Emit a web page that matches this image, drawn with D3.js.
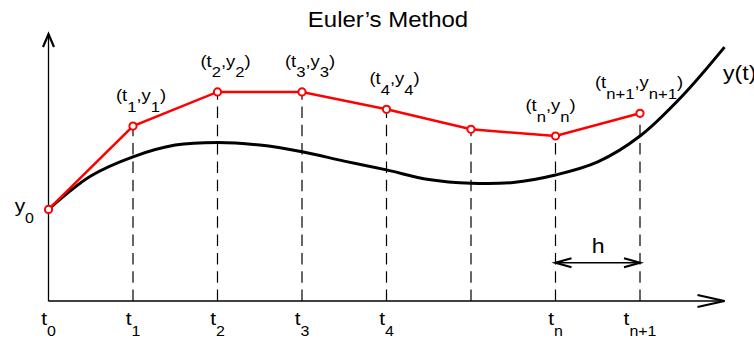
<!DOCTYPE html>
<html>
<head>
<meta charset="utf-8">
<script src="https://cdn.jsdelivr.net/npm/d3@7"></script>
<style>
  body { margin: 0; background: #fff; }
  text { font-family: "Liberation Sans", Arial, sans-serif; fill: #000; }
</style>
</head>
<body>
<svg width="754" height="339"></svg>
<script>
const svg = d3.select('svg');
const width = +svg.attr('width');
const height = +svg.attr('height');

// exact solution y(t)
const exactT = [0, 0.5, 1, 1.5, 2, 2.5, 3, 3.5, 4, 4.5, 5, 5.5, 6, 6.5, 7, 7.5, 8];
const exactY = [3.43, 4.68, 5.40, 5.84, 5.94, 5.84, 5.59, 5.24, 4.91, 4.55, 4.41, 4.44, 4.72, 5.21, 6.18, 7.68, 9.51];

// Euler steps
const stepT = [0, 1, 2, 3, 4, 5, 6, 7];
const stepY = [3.43, 6.55, 7.83, 7.83, 7.18, 6.43, 6.18, 7.03];
const stepSub = ['0', '1', '2', '3', '4', '', 'n', 'n+1'];

const titleText = 'Euler’s Method';
const curveLabel = 'y(t)';
const stepLabel = 'h';

const x = d3.scaleLinear().domain([0, 8]).range([48.5, 724.5]);
const y = d3.scaleLinear().domain([0, 10]).range([301, 34]);

// text is a little wider than tall in the original
const SX = 1.1;
function label(parts, px, py, opts) {
  const g = svg.append('g').attr('transform', `translate(${px},${py}) scale(${opts.sx || SX},1)`);
  const t = g.append('text')
    .attr('text-anchor', opts.anchor || 'middle')
    .attr('font-size', opts.size);
  let down = false;
  parts.forEach(([s, sub]) => {
    const ts = t.append('tspan').text(s);
    if (sub && !down) { ts.attr('dy', opts.shift).attr('font-size', opts.subSize); down = true; }
    else if (sub) { ts.attr('font-size', opts.subSize); }
    else if (down) { ts.attr('dy', -opts.shift); down = false; }
  });
  return t;
}

// dashed guides
svg.append('g').selectAll('line')
  .data(stepT.slice(1))
  .enter().append('line')
  .attr('x1', d => x(d)).attr('x2', d => x(d))
  .attr('y1', y(0)).attr('y2', (d, i) => y(stepY[i + 1]) + 4)
  .attr('stroke', '#000').attr('stroke-width', 1.2)
  .attr('stroke-dasharray', '11.5,6.8');

// axes
svg.append('g').attr('transform', `translate(0,${y(0) - 0.5})`)
  .call(d3.axisBottom(x).tickValues([]).tickSizeOuter(0))
  .select('.domain').attr('stroke-width', 1.3);
svg.append('g').attr('transform', `translate(${x(0) - 0.5},0)`)
  .call(d3.axisLeft(y).tickValues([]).tickSizeOuter(0))
  .select('.domain').attr('stroke-width', 1.3);

const arrows = svg.append('g').attr('fill', 'none').attr('stroke', '#000')
  .attr('stroke-width', 2.2).attr('stroke-linejoin', 'miter');
const xe = x(8), ye = y(10), ya = y(0);
arrows.append('path').attr('d', `M${xe - 27},${ya - 6}L${xe},${ya}L${xe - 27},${ya + 6}`);
arrows.append('path').attr('d', `M${x(0) - 5.5},${ye + 13}L${x(0)},${ye}L${x(0) + 5.5},${ye + 13}`);

// exact solution
svg.append('path')
  .datum(exactT.map((t, i) => [t, exactY[i]]))
  .attr('fill', 'none').attr('stroke', '#000').attr('stroke-width', 3)
  .attr('d', d3.line().x(d => x(d[0])).y(d => y(d[1])).curve(d3.curveCatmullRom.alpha(0.5)));

// Euler polyline
svg.append('path')
  .datum(stepT.map((t, i) => [t, stepY[i]]))
  .attr('fill', 'none').attr('stroke', '#ff0000').attr('stroke-width', 2.5)
  .attr('d', d3.line().x(d => x(d[0])).y(d => y(d[1])));

svg.append('g').selectAll('circle')
  .data(stepT)
  .enter().append('circle')
  .attr('cx', d => x(d)).attr('cy', (d, i) => y(stepY[i]))
  .attr('r', 3.6)
  .attr('fill', '#fff').attr('stroke', '#ff0000').attr('stroke-width', 2);

// h step arrow
const hy = 262.7;
const h = svg.append('g').attr('fill', 'none').attr('stroke', '#000');
h.append('line').attr('x1', x(6)).attr('x2', x(7)).attr('y1', hy).attr('y2', hy).attr('stroke-width', 1.4);
h.append('path').attr('stroke-width', 2.2)
  .attr('d', `M${x(6) + 16},${hy - 4.5}L${x(6)},${hy}L${x(6) + 16},${hy + 4.5}`);
h.append('path').attr('stroke-width', 2.2)
  .attr('d', `M${x(7) - 16},${hy - 4.5}L${x(7)},${hy}L${x(7) - 16},${hy + 4.5}`);
label([[stepLabel, 0]], (x(6) + x(7)) / 2 + 0.5, 253, { size: 21 });

// title and curve label
label([[titleText, 0]], 388, 27, { size: 22, sx: 1.09 });
label([[curveLabel, 0]], 723, 80, { size: 21, anchor: 'start' });

// point labels
const nudge = { n: -5, 'n+1': -1 };
stepT.forEach((t, i) => {
  const s = stepSub[i];
  if (i === 0 || s === '') return;
  const dx = nudge[s] !== undefined ? nudge[s] : 8;
  label([['(t', 0], [s, 1], [',y', 0], [s, 1], [')', 0]], x(t) + dx, y(stepY[i]) - 25,
    { size: 16, subSize: 14.5, shift: 10.5, sx: 1.15 });
});

// y0 label
label([['y', 0], [stepSub[0], 1]], 34, 212, { size: 19, subSize: 14.5, shift: 11, anchor: 'end' });

// t labels under the axis
stepT.forEach((t, i) => {
  const s = stepSub[i];
  if (s === '') return;
  label([['t', 0], [s, 1]], x(t), 325, { size: 19, subSize: 14.5, shift: 11 });
});
</script>
</body>
</html>
